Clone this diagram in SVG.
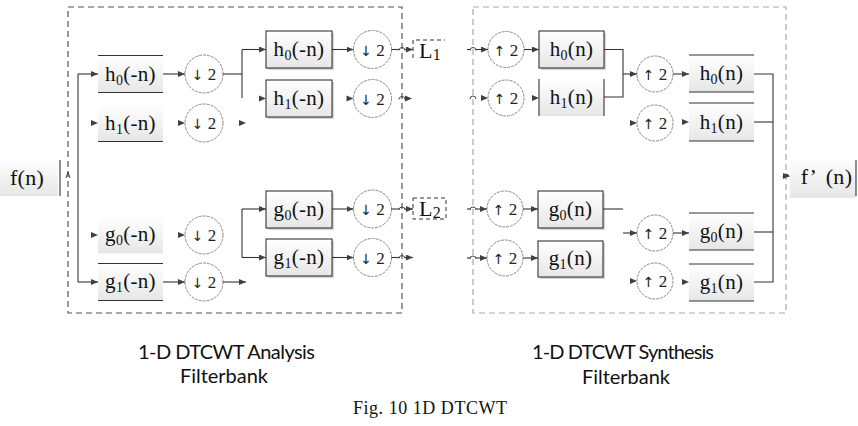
<svg xmlns="http://www.w3.org/2000/svg" xmlns:xlink="http://www.w3.org/1999/xlink" width="858" height="426" viewBox="0 0 858 426">
<style>
.frameL{fill:none;stroke:#555;stroke-width:1.2;stroke-dasharray:6 4}
.frameR{fill:none;stroke:#aaa;stroke-width:1.2;stroke-dasharray:6 4}
.box{fill:url(#bg)}
.bord{fill:none;stroke:#333;stroke-width:1.1}
.sh{fill:#d4d4d4}
.edge{stroke:#333;stroke-width:1.1;fill:none}
.circ{fill:#fff;stroke:#888;stroke-width:1;stroke-dasharray:3 1}
.lbl{font-family:"Liberation Serif","Times New Roman",serif;font-size:21px;fill:#111;text-anchor:middle;letter-spacing:0.3px}
.sub{font-size:14px}
.op{font-family:"Liberation Serif","Times New Roman",serif;font-size:17px;fill:#222;text-anchor:middle}
.ar{font-family:"DejaVu Sans",sans-serif;font-size:14px;fill:#222}
.cap{font-family:Lato,"Open Sans",sans-serif;font-size:20px;fill:#111;text-anchor:middle}
.fig{font-family:"Liberation Serif","Times New Roman",serif;font-size:18px;fill:#111;text-anchor:middle}
.ah{fill:#404040}
.hop{fill:none;stroke:#444;stroke-width:1}
.ldash{fill:none;stroke:#333;stroke-width:1;stroke-dasharray:4 3}
</style>
<defs>
<linearGradient id="bg" x1="0" y1="0" x2="0" y2="1">
<stop offset="0" stop-color="#ffffff"/>
<stop offset="1" stop-color="#e6e6e6"/>
</linearGradient>
<marker id="arr" markerUnits="userSpaceOnUse" markerWidth="7" markerHeight="6" refX="7" refY="3" orient="auto">
<path d="M0,0 L7,3 L0,6 Z" fill="#404040"/>
</marker>
<path id="ah" class="ah" d="M-7,-3 L0,0 L-7,3 Z"/>
<path id="hp" class="hop" d="M-3,1 A3,3 0 0 1 3,1"/>
</defs>

<!-- frames -->
<rect class="frameL" x="68" y="7" width="334" height="306"/>
<rect class="frameR" x="473" y="7" width="313" height="306"/>

<!-- input / output -->
<g id="fn">
<rect class="box" x="0" y="158" width="58" height="38"/>
<line class="edge" x1="60" y1="160" x2="60" y2="196"/>
<text class="lbl" x="27" y="185" style="font-size:22px">f(n)</text>
</g>
<g id="fpn">
<rect class="box" x="790" y="156" width="66" height="42"/>
<line class="edge" x1="856" y1="160" x2="856" y2="196"/>
<text class="lbl" x="809" y="184" style="font-size:22px">f’</text>
<text class="lbl" x="839" y="184" style="font-size:22px">(n)</text>
</g>

<!-- analysis stage 1 -->
<g id="a_h0_1">
<rect class="box" x="98" y="55.5" width="65" height="37"/>
<line class="edge" x1="98" y1="55.5" x2="163" y2="55.5"/><line class="edge" x1="98" y1="92.5" x2="163" y2="92.5"/>
<text class="lbl" x="130.5" y="81">h<tspan class="sub" dy="4">0</tspan><tspan dy="-4">(-n)</tspan></text>
</g>
<g id="a_h1_1">
<rect class="box" x="98" y="104.5" width="65" height="37"/>
<line class="edge" x1="98" y1="141.5" x2="163" y2="141.5"/>
<text class="lbl" x="130.5" y="130">h<tspan class="sub" dy="4">1</tspan><tspan dy="-4">(-n)</tspan></text>
</g>
<g id="a_g0_1">
<rect class="box" x="98" y="216.5" width="65" height="37"/>
<text class="lbl" x="130.5" y="241">g<tspan class="sub" dy="4">0</tspan><tspan dy="-4">(-n)</tspan></text>
</g>
<g id="a_g1_1">
<rect class="box" x="98" y="263.5" width="65" height="37"/>
<line class="edge" x1="98" y1="263.5" x2="163" y2="263.5"/><line class="edge" x1="98" y1="300.5" x2="163" y2="300.5"/>
<text class="lbl" x="130.5" y="288">g<tspan class="sub" dy="4">1</tspan><tspan dy="-4">(-n)</tspan></text>
</g>
<g id="a_d1"><circle class="circ" cx="204" cy="74" r="19"/><text class="op" x="204" y="80"><tspan class="ar">↓</tspan> 2</text></g>
<g id="a_d2"><circle class="circ" cx="204" cy="123" r="19"/><text class="op" x="204" y="129"><tspan class="ar">↓</tspan> 2</text></g>
<g id="a_d3"><circle class="circ" cx="204" cy="235" r="19"/><text class="op" x="204" y="241"><tspan class="ar">↓</tspan> 2</text></g>
<g id="a_d4"><circle class="circ" cx="204" cy="282" r="19"/><text class="op" x="204" y="288"><tspan class="ar">↓</tspan> 2</text></g>

<!-- analysis stage 2 -->
<g id="a_h0_2">
<rect class="sh" x="268" y="33" width="66" height="37"/>
<rect class="box" x="266" y="31" width="66" height="37"/><rect class="bord" x="266" y="31" width="66" height="37"/>
<text class="lbl" x="299" y="56">h<tspan class="sub" dy="4">0</tspan><tspan dy="-4">(-n)</tspan></text>
</g>
<g id="a_h1_2">
<rect class="sh" x="268" y="82" width="66" height="37"/>
<rect class="box" x="266" y="80" width="66" height="37"/><rect class="bord" x="266" y="80" width="66" height="37"/>
<text class="lbl" x="299" y="105">h<tspan class="sub" dy="4">1</tspan><tspan dy="-4">(-n)</tspan></text>
</g>
<g id="a_g0_2">
<rect class="sh" x="268" y="193" width="66" height="37"/>
<rect class="box" x="266" y="191" width="66" height="37"/><rect class="bord" x="266" y="191" width="66" height="37"/>
<text class="lbl" x="299" y="216">g<tspan class="sub" dy="4">0</tspan><tspan dy="-4">(-n)</tspan></text>
</g>
<g id="a_g1_2">
<rect class="sh" x="268" y="241" width="66" height="37"/>
<rect class="box" x="266" y="239" width="66" height="37"/><rect class="bord" x="266" y="239" width="66" height="37"/>
<text class="lbl" x="299" y="264">g<tspan class="sub" dy="4">1</tspan><tspan dy="-4">(-n)</tspan></text>
</g>
<g id="a_d5"><circle class="circ" cx="372.5" cy="49.5" r="19"/><text class="op" x="372.5" y="55.5"><tspan class="ar">↓</tspan> 2</text></g>
<g id="a_d6"><circle class="circ" cx="372.5" cy="98.5" r="19"/><text class="op" x="372.5" y="104.5"><tspan class="ar">↓</tspan> 2</text></g>
<g id="a_d7"><circle class="circ" cx="372.5" cy="209" r="19"/><text class="op" x="372.5" y="215"><tspan class="ar">↓</tspan> 2</text></g>
<g id="a_d8"><circle class="circ" cx="372.5" cy="257.5" r="19"/><text class="op" x="372.5" y="263.5"><tspan class="ar">↓</tspan> 2</text></g>

<!-- L1 / L2 -->
<g id="L1">
<path class="ldash" d="M413,58 V40 H445"/>
<text class="lbl" x="419" y="58" style="text-anchor:start;font-size:22px">L<tspan dy="2" style="font-size:16px">1</tspan></text>
</g>
<g id="L2">
<rect class="ldash" x="413" y="198" width="33" height="21"/>
<text class="lbl" x="419" y="216" style="text-anchor:start;font-size:22px">L<tspan dy="2" style="font-size:16px">2</tspan></text>
</g>

<!-- synthesis stage 1 -->
<g id="s_u1"><circle class="circ" cx="506" cy="49.5" r="18"/><text class="op" x="506" y="55.5"><tspan class="ar">↑</tspan> 2</text></g>
<g id="s_u2"><circle class="circ" cx="506" cy="98" r="18"/><text class="op" x="506" y="104"><tspan class="ar">↑</tspan> 2</text></g>
<g id="s_u3"><circle class="circ" cx="505" cy="209" r="18"/><text class="op" x="505" y="215"><tspan class="ar">↑</tspan> 2</text></g>
<g id="s_u4"><circle class="circ" cx="505" cy="258" r="18"/><text class="op" x="505" y="264"><tspan class="ar">↑</tspan> 2</text></g>
<g id="s_h0_1">
<rect class="sh" x="541" y="33" width="65" height="37"/>
<rect class="box" x="539" y="31" width="65" height="37"/><rect class="bord" x="539" y="31" width="65" height="37"/>
<text class="lbl" x="571.5" y="56">h<tspan class="sub" dy="4">0</tspan><tspan dy="-4">(n)</tspan></text>
</g>
<g id="s_h1_1">
<rect class="box" x="539" y="79" width="65" height="37"/>
<line class="edge" x1="539" y1="79" x2="539" y2="116"/><line class="edge" x1="604" y1="79" x2="604" y2="116"/>
<text class="lbl" x="571.5" y="104">h<tspan class="sub" dy="4">1</tspan><tspan dy="-4">(n)</tspan></text>
</g>
<g id="s_g0_1">
<rect class="sh" x="540" y="193" width="65" height="37"/>
<rect class="box" x="538" y="191" width="65" height="37"/><rect class="bord" x="538" y="191" width="65" height="37"/>
<text class="lbl" x="570.5" y="216">g<tspan class="sub" dy="4">0</tspan><tspan dy="-4">(n)</tspan></text>
</g>
<g id="s_g1_1">
<rect class="sh" x="540" y="243" width="65" height="36"/>
<rect class="box" x="538" y="241" width="65" height="36"/><rect class="bord" x="538" y="241" width="65" height="36"/>
<text class="lbl" x="570.5" y="265">g<tspan class="sub" dy="4">1</tspan><tspan dy="-4">(n)</tspan></text>
</g>

<!-- synthesis stage 2 -->
<g id="s_u5"><circle class="circ" cx="655" cy="74" r="18"/><text class="op" x="655" y="80"><tspan class="ar">↑</tspan> 2</text></g>
<g id="s_u6"><circle class="circ" cx="655" cy="123" r="18"/><text class="op" x="655" y="129"><tspan class="ar">↑</tspan> 2</text></g>
<g id="s_u7"><circle class="circ" cx="655" cy="233" r="18"/><text class="op" x="655" y="239"><tspan class="ar">↑</tspan> 2</text></g>
<g id="s_u8"><circle class="circ" cx="655" cy="281" r="18"/><text class="op" x="655" y="287"><tspan class="ar">↑</tspan> 2</text></g>
<g id="s_h0_2">
<rect class="box" x="689" y="55" width="65" height="37"/>
<line class="edge" x1="689" y1="55" x2="754" y2="55"/><line class="edge" x1="689" y1="92" x2="754" y2="92"/>
<text class="lbl" x="721.5" y="80">h<tspan class="sub" dy="4">0</tspan><tspan dy="-4">(n)</tspan></text>
</g>
<g id="s_h1_2">
<rect class="box" x="689" y="103" width="65" height="38"/>
<line class="edge" x1="689" y1="103" x2="754" y2="103"/><line class="edge" x1="689" y1="141" x2="754" y2="141"/>
<text class="lbl" x="721.5" y="129">h<tspan class="sub" dy="4">1</tspan><tspan dy="-4">(n)</tspan></text>
</g>
<g id="s_g0_2">
<rect class="box" x="689" y="213" width="65" height="37"/>
<line class="edge" x1="689" y1="213" x2="754" y2="213"/><line class="edge" x1="689" y1="250" x2="754" y2="250"/>
<text class="lbl" x="721.5" y="238">g<tspan class="sub" dy="4">0</tspan><tspan dy="-4">(n)</tspan></text>
</g>
<g id="s_g1_2">
<rect class="box" x="689" y="264" width="65" height="37"/>
<line class="edge" x1="689" y1="264" x2="754" y2="264"/><line class="edge" x1="689" y1="301" x2="754" y2="301"/>
<text class="lbl" x="721.5" y="289">g<tspan class="sub" dy="4">1</tspan><tspan dy="-4">(n)</tspan></text>
</g>

<!-- connectors -->
<g id="connectors">
<path class="edge" d="M78,74 V282"/>
<path class="edge" d="M78,74 H98" marker-end="url(#arr)"/>
<path class="edge" d="M78,282 H98" marker-end="url(#arr)"/>
<path class="hop" d="M66,178 L68,172 L70,178"/>
<use xlink:href="#ah" x="98" y="123"/>
<use xlink:href="#ah" x="98" y="235"/>
<path class="edge" d="M163,74 H185" marker-end="url(#arr)"/>
<use xlink:href="#ah" x="185" y="123"/>
<use xlink:href="#ah" x="185" y="235"/>
<path class="edge" d="M163,282 H185" marker-end="url(#arr)"/>
<use xlink:href="#ah" x="246" y="123"/>
<path class="edge" d="M223,74 H242"/>
<path class="edge" d="M242,49.5 V98"/>
<path class="edge" d="M242,49.5 H266" marker-end="url(#arr)"/>
<use xlink:href="#ah" x="266" y="98.5"/>
<path class="edge" d="M223,282 H246" marker-end="url(#arr)"/>
<path class="edge" d="M242,209 V257.5"/>
<path class="edge" d="M242,209 H266" marker-end="url(#arr)"/>
<path class="edge" d="M242,257.5 H266" marker-end="url(#arr)"/>
<path class="edge" d="M332,49.5 H353.5" marker-end="url(#arr)"/>
<use xlink:href="#ah" x="353.5" y="98.5"/>
<path class="edge" d="M332,209 H353.5" marker-end="url(#arr)"/>
<path class="edge" d="M332,257.5 H353.5" marker-end="url(#arr)"/>
<path class="edge" d="M391.5,49.5 H399"/><use xlink:href="#hp" x="402" y="49.5"/><path class="edge" d="M405,49.5 H413" marker-end="url(#arr)"/>
<use xlink:href="#hp" x="402" y="98.5"/><use xlink:href="#ah" x="412" y="98.5"/>
<path class="edge" d="M391.5,209 H399"/><use xlink:href="#hp" x="402" y="209"/><path class="edge" d="M405,209 H413" marker-end="url(#arr)"/>
<path class="edge" d="M391.5,257.5 H399"/><use xlink:href="#hp" x="402" y="257.5"/><path class="edge" d="M405,257.5 H413" marker-end="url(#arr)"/>
<path class="edge" d="M467,49.5 H470"/><use xlink:href="#hp" x="473" y="49.5"/><path class="edge" d="M476,49.5 H488" marker-end="url(#arr)"/>
<use xlink:href="#hp" x="473" y="98"/><use xlink:href="#ah" x="488" y="98"/>
<path class="edge" d="M467,209 H470"/><use xlink:href="#hp" x="473" y="209"/><path class="edge" d="M476,209 H487" marker-end="url(#arr)"/>
<path class="edge" d="M467,258 H470"/><use xlink:href="#hp" x="473" y="258"/><path class="edge" d="M476,258 H487" marker-end="url(#arr)"/>
<path class="edge" d="M524,49.5 H539" marker-end="url(#arr)"/>
<use xlink:href="#ah" x="539" y="98"/>
<path class="edge" d="M523,209 H538" marker-end="url(#arr)"/>
<path class="edge" d="M523,258 H538" marker-end="url(#arr)"/>
<path class="edge" d="M604,49.5 H623 V97 H604"/>
<path class="edge" d="M623,74 H637" marker-end="url(#arr)"/>
<path class="edge" d="M673,74 H689" marker-end="url(#arr)"/>
<use xlink:href="#ah" x="637" y="123"/>
<use xlink:href="#ah" x="689" y="122"/>
<path class="edge" d="M603,209 H623"/>
<path class="edge" d="M623,233 H637" marker-end="url(#arr)"/>
<path class="edge" d="M673,233 H689" marker-end="url(#arr)"/>
<use xlink:href="#ah" x="637" y="281"/>
<use xlink:href="#ah" x="689" y="282"/>
<path class="edge" d="M754,74 H773 V282 H754"/>
<path class="edge" d="M754,122 H773"/>
<path class="edge" d="M754,232 H773"/>
<use xlink:href="#hp" x="786" y="176"/>
<use xlink:href="#ah" x="790" y="176"/>
</g>

<!-- captions -->
<text class="cap" x="226.5" y="359" textLength="177">1-D DTCWT Analysis</text>
<text class="cap" x="224" y="383" textLength="88">Filterbank</text>
<text class="cap" x="623" y="359" textLength="182">1-D DTCWT Synthesis</text>
<text class="cap" x="626" y="384" textLength="88">Filterbank</text>
<text class="fig" x="430" y="414" textLength="154">Fig. 10 1D DTCWT</text>
</svg>
